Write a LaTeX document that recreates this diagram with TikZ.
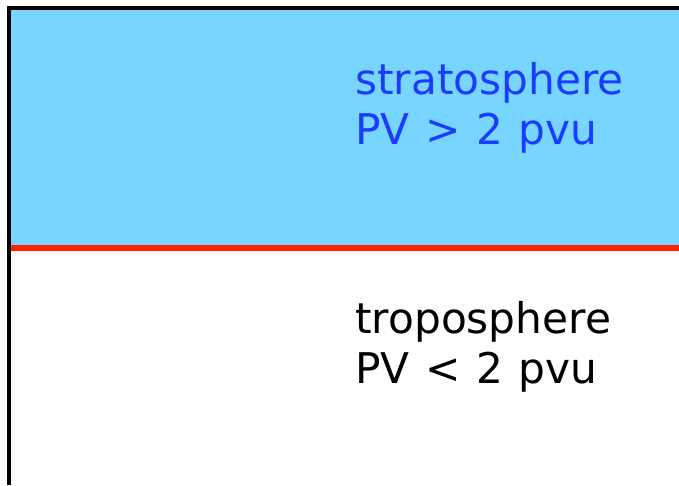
\documentclass[tikz,border=0pt]{standalone}
\usepackage{fontspec}
\setmainfont{DejaVu Sans}
\definecolor{skyfill}{HTML}{77D5FF}
\definecolor{bluetext}{HTML}{1A3CFF}
\definecolor{tropline}{HTML}{FF2200}
\newcommand{\wsp}{\hspace{15.5pt}}
\begin{document}
\begin{tikzpicture}[x=1pt,y=-1pt,
  layertext/.style={anchor=base west,inner sep=0pt,font=\fontsize{42.3}{50}\selectfont}]
\useasboundingbox (0,0) rectangle (679,485);
\fill[white] (0,0) rectangle (679,485);
\fill[skyfill] (9,8) rectangle (679,248);
\draw[tropline,line width=6pt] (9,248) -- (679,248);
\draw[black,line width=4.2pt] (9,485) -- (9,8) -- (679,8);
\node[layertext,text=bluetext] (s1) at (355,94) {stratosphere};
\node[layertext,text=bluetext] (s2) at (355,144) {PV\wsp>\wsp2\wsp pvu};
\node[layertext,text=black] (t1) at (355,333) {troposphere};
\node[layertext,text=black] (t2) at (355,383) {PV\wsp<\wsp2\wsp pvu};
\end{tikzpicture}
\end{document}
